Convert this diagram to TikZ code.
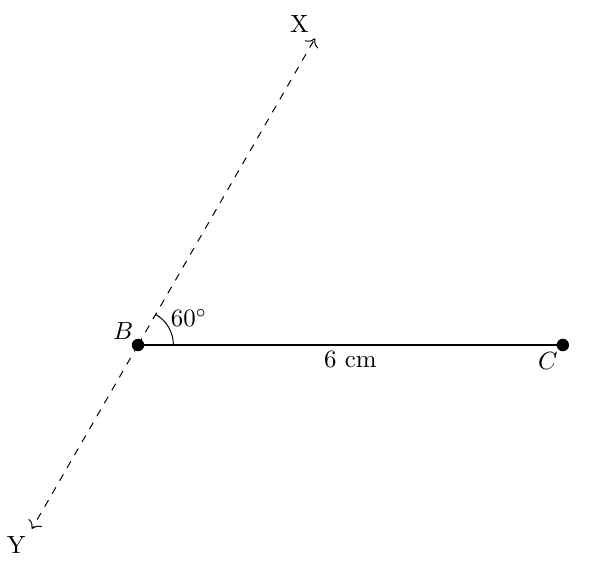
\documentclass[tikz,border=0pt]{standalone}
\usetikzlibrary{calc,arrows.meta}
\begin{document}
\begin{tikzpicture}
\useasboundingbox (-1.949,-3.249) rectangle (6.525,4.873);
\tikzset{pt/.style={circle,fill=black,inner sep=0pt,minimum size=5pt},
  ray/.style={dashed,-{To[scale=1.2]}}}
\coordinate (B) at (0,0);
\coordinate (C) at (6,0);
\coordinate (X) at (60:5);
\coordinate (Y) at (240:3);
\draw[ray] (B) -- (X);
\draw[ray] (B) -- (Y);
\draw[semithick] (B) -- node[below,inner sep=2pt] (len) {6 cm} (C);
\draw ($(B)+(0.5,0)$) arc (0:60:0.5);
\node (ang) at (0.72,0.38) {$60^\circ$};
\node[pt] (Bp) at (B) {};
\node[pt] (Cp) at (C) {};
\node (Bl) at ($(B)+(-0.21,0.198)$) {$B$};
\node (Cl) at ($(C)+(-0.21,-0.226)$) {$C$};
\node (Xl) at ($(X)+(-0.22,0.21)$) {X};
\node (Yl) at ($(Y)+(-0.22,-0.23)$) {Y};
\end{tikzpicture}
\end{document}
